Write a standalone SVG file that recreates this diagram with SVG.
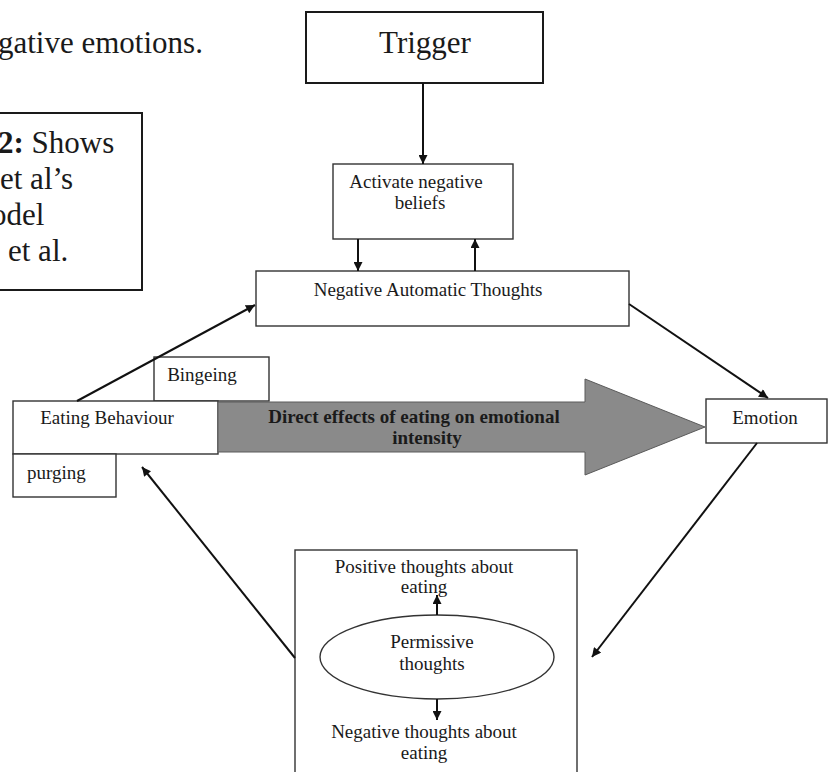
<svg xmlns="http://www.w3.org/2000/svg" width="828" height="772" viewBox="0 0 828 772">
<style>
  text { font-family: "Liberation Serif", "Times New Roman", serif; fill: #1a1a1a; }
  .big { font-size: 31px; }
  .lbl { font-size: 19px; }
  .box { fill: #ffffff; stroke: #333333; stroke-width: 1.4; }
  .box2 { fill: #ffffff; stroke: #1a1a1a; stroke-width: 2; }
  .con { stroke: #111111; stroke-width: 2; fill: none; }
</style>
<defs>
  <marker id="ah" viewBox="0 0 10 10" refX="10" refY="5" markerWidth="10" markerHeight="9" markerUnits="userSpaceOnUse" orient="auto">
    <path d="M0,0 L10,5 L0,10 z" fill="#111111"/>
  </marker>
</defs>
<rect width="828" height="772" fill="#ffffff"/>

<g id="intro-text">
  <text class="big" x="-2" y="53">gative emotions.</text>
</g>

<g id="caption">
  <rect class="box2" x="-10" y="113" width="152" height="177"/>
  <text class="big" x="-2" y="153"><tspan font-weight="bold">2:</tspan> Shows</text>
  <text class="big" x="0" y="189">et al’s</text>
  <text class="big" x="-9" y="225">odel</text>
  <text class="big" x="8" y="261">et al.</text>
</g>

<g id="trigger">
  <rect class="box2" x="306" y="12" width="237" height="71"/>
  <text class="big" x="425" y="53" text-anchor="middle">Trigger</text>
</g>

<g id="activate">
  <rect class="box" x="333" y="164" width="180" height="75"/>
  <text class="lbl" x="416" y="188" text-anchor="middle">Activate negative</text>
  <text class="lbl" x="420" y="209" text-anchor="middle">beliefs</text>
</g>

<g id="nat">
  <rect class="box" x="256" y="271" width="373" height="55"/>
  <text class="lbl" x="428" y="296" text-anchor="middle">Negative Automatic Thoughts</text>
</g>

<g id="bingeing">
  <rect class="box" x="154" y="357" width="115" height="44"/>
  <text class="lbl" x="202" y="381" text-anchor="middle">Bingeing</text>
</g>

<g id="eating">
  <rect class="box" x="13" y="401" width="205" height="53"/>
  <text class="lbl" x="107" y="424" text-anchor="middle">Eating Behaviour</text>
</g>

<g id="purging">
  <rect class="box" x="13" y="454" width="103" height="43"/>
  <text class="lbl" x="27" y="479">purging</text>
</g>

<g id="direct-effects">
  <polygon points="218,402 585,402 585,379 705,427 585,475 585,452 218,452" fill="#8a8a8a" stroke="#5a5a5a" stroke-width="1"/>
  <text class="lbl" x="414" y="423" text-anchor="middle" font-weight="bold">Direct effects of eating on emotional</text>
  <text class="lbl" x="427" y="444" text-anchor="middle" font-weight="bold">intensity</text>
</g>

<g id="emotion">
  <rect class="box" x="706" y="399" width="121" height="44"/>
  <text class="lbl" x="765" y="424" text-anchor="middle">Emotion</text>
</g>

<g id="permissive-box">
  <rect class="box" x="295" y="550" width="282" height="235"/>
  <text class="lbl" x="424" y="573" text-anchor="middle">Positive thoughts about</text>
  <text class="lbl" x="424" y="593" text-anchor="middle">eating</text>
  <text class="lbl" x="424" y="738" text-anchor="middle">Negative thoughts about</text>
  <text class="lbl" x="424" y="759" text-anchor="middle">eating</text>
</g>

<g id="permissive-thoughts">
  <ellipse cx="437" cy="657" rx="117" ry="42" fill="#ffffff" stroke="#333333" stroke-width="1.4"/>
  <text class="lbl" x="432" y="648" text-anchor="middle">Permissive</text>
  <text class="lbl" x="432" y="670" text-anchor="middle">thoughts</text>
</g>

<g id="connectors">
  <line class="con" x1="423" y1="83" x2="423" y2="164" marker-end="url(#ah)"/>
  <line class="con" x1="358" y1="239" x2="358" y2="271" marker-end="url(#ah)"/>
  <line class="con" x1="475" y1="271" x2="475" y2="239" marker-end="url(#ah)"/>
  <line class="con" x1="77" y1="401" x2="255" y2="305" marker-end="url(#ah)"/>
  <line class="con" x1="629" y1="304" x2="768" y2="398" marker-end="url(#ah)"/>
  <line class="con" x1="757" y1="443" x2="592" y2="657" marker-end="url(#ah)"/>
  <line class="con" x1="295" y1="658" x2="142" y2="467" marker-end="url(#ah)"/>
  <line class="con" x1="437" y1="615" x2="437" y2="595" marker-end="url(#ah)"/>
  <line class="con" x1="437" y1="699" x2="437" y2="720" marker-end="url(#ah)"/>
</g>
</svg>
